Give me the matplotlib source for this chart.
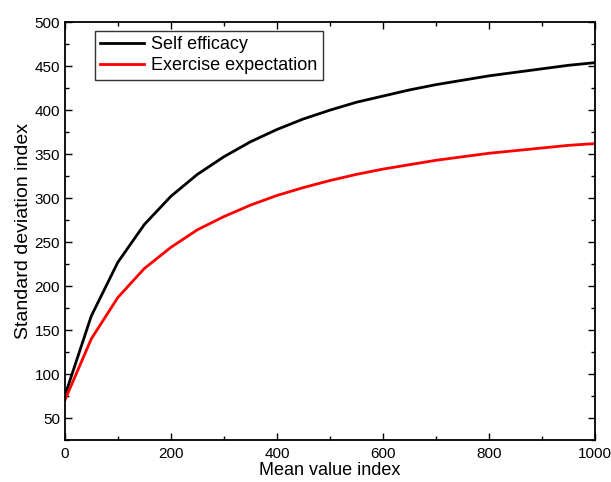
import matplotlib
matplotlib.use("Agg")
import matplotlib.pyplot as plt
from matplotlib.ticker import MultipleLocator

plt.rcParams['font.family'] = ['Liberation Sans', 'DejaVu Sans']

# data (every 50 units of mean value index)
x = [0, 50, 100, 150, 200, 250, 300, 350, 400, 450, 500,
     550, 600, 650, 700, 750, 800, 850, 900, 950, 1000]
self_efficacy = [75, 166, 227, 270, 302, 327, 347, 364, 378, 390, 400,
                 409, 416, 423, 429, 434, 439, 443, 447, 451, 454]
exercise_expectation = [70, 140, 187, 220, 244, 264, 279, 292, 303, 312, 320,
                        327, 333, 338, 343, 347, 351, 354, 357, 360, 362]

fig = plt.figure(figsize=(6.11, 4.82), dpi=100)
ax = fig.add_axes([0.106, 0.087, 0.868, 0.867])

ax.plot(x, self_efficacy, color='black', lw=2, label='Self efficacy')
ax.plot(x, exercise_expectation, color='red', lw=2, label='Exercise expectation')

ax.set_xlim(0, 1000)
ax.set_ylim(25, 500)
ax.xaxis.set_major_locator(MultipleLocator(200))
ax.xaxis.set_minor_locator(MultipleLocator(100))
ax.yaxis.set_major_locator(MultipleLocator(50))
ax.yaxis.set_minor_locator(MultipleLocator(25))
ax.tick_params(which='both', direction='in', top=True, right=True, labelsize=11)
ax.tick_params(axis='x', which='major', pad=5)
ax.tick_params(which='major', length=5, width=1)
ax.tick_params(which='minor', length=3, width=1)
for s in ax.spines.values():
    s.set_linewidth(1.3)

ax.set_xlabel('Mean value index', fontsize=13, labelpad=1)
ax.set_ylabel('Standard deviation index', fontsize=14, labelpad=2)

leg = ax.legend(loc='upper left', bbox_to_anchor=(0.057, 0.98), fontsize=13,
                fancybox=False, edgecolor='#333333', framealpha=1,
                handlelength=2.4, borderpad=0.3, labelspacing=0.25,
                handletextpad=0.4, borderaxespad=0)
leg.get_frame().set_linewidth(1)

fig.savefig('out.png', dpi=100)
